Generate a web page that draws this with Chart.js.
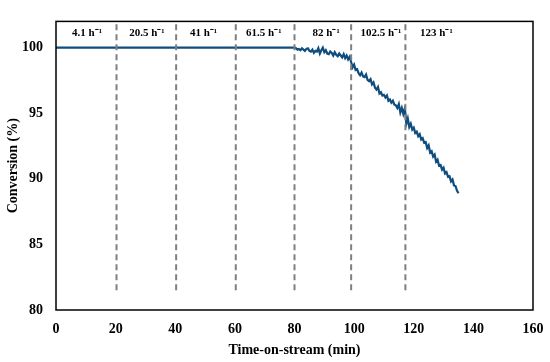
<!DOCTYPE html>
<html><head><meta charset="utf-8">
<script src="https://cdn.jsdelivr.net/npm/chart.js@4"></script>
<style>html,body{margin:0;padding:0;background:#fff}#w{width:550px;height:362px}</style>
</head><body><div id="w"><canvas id="c"></canvas></div>
<script>
const times = [0,80,80.5,81,81.5,82,82.5,83,83.5,84,84.5,85,85.5,86,86.5,87,87.5,88,88.5,89,89.5,90,90.5,91,91.5,92,92.5,93,93.5,94,94.5,95,95.5,96,96.5,97,97.5,98,98.5,99,99.5,100,100.5,101,101.5,102,102.5,103,103.5,104,104.5,105,105.5,106,106.5,107,107.5,108,108.5,109,109.5,110,110.5,111,111.5,112,112.5,113,113.5,114,114.5,115,115.5,116,116.5,117,117.3,117.5,118,118.5,119,119.5,120,120.5,121,121.5,122,122.5,123,123.5,124,124.5,125,125.5,126,126.5,127,127.5,128,128.5,129,129.5,130,130.5,131,131.5,132,132.5,133,133.5,134,134.5,135];
const conversion = [100,100,99.95,99.85,99.9,99.8,99.95,99.85,99.75,99.9,99.95,99.75,99.7,99.85,99.6,99.75,99.7,99.95,99.55,99.8,100.0,99.65,99.8,99.55,99.5,99.7,99.6,99.4,99.65,99.45,99.35,99.55,99.4,99.25,99.5,99.2,99.4,99.1,99.3,98.9,98.5,98.7,98.3,98.35,98.05,97.9,98.1,97.8,97.75,97.95,97.55,97.45,97.6,97.2,97.35,96.95,96.8,97.0,96.5,96.6,96.35,96.4,96.2,96.35,95.95,96.05,95.8,95.95,95.65,95.6,95.4,95.7,95.05,95.4,94.95,95.35,94.8,94.2,94.6,93.95,94.2,93.75,93.9,93.5,93.6,93.25,93.4,93.0,93.1,92.75,92.8,92.35,92.55,92.0,92.1,91.7,91.85,91.3,91.45,91.0,91.05,90.7,90.85,90.4,90.5,90.15,90.2,89.8,89.95,89.5,89.45,89.1,88.9];
const boundaries = [20.3,40.3,60.3,80,99,117.2];
const boundaryBottom = 81.5;
const boundaryTop = 102;
const spaceVelocities = ["4.1 h\u207B\u00B9","20.5 h\u207B\u00B9","41 h\u207B\u00B9","61.5 h\u207B\u00B9","82 h\u207B\u00B9","102.5 h\u207B\u00B9","123 h\u207B\u00B9"];
const labelX = [10.4,30.5,49.5,69.7,90.6,109,127.6];
const labelY = 101.1;
const xTicks = [0,20,40,60,80,100,120,140,160];
const yTicks = [80,85,90,95,100];

const FONT = "'Liberation Serif','Times New Roman',serif";
const datasets = boundaries.map(b => ({
  data: [{x:b,y:boundaryBottom},{x:b,y:boundaryTop}],
  borderColor:'#7f7f7f', borderWidth:2, borderDash:[6,4], pointRadius:0, fill:false
}));
datasets.push({
  data: times.map((t,i)=>({x:t,y:conversion[i]})),
  borderColor:'#0e4d7d', borderWidth:2.2, pointRadius:0, tension:0, fill:false
});

const overlay = {
  id:'overlay',
  afterDatasetsDraw(chart){
    const {ctx, chartArea:a, scales} = chart;
    ctx.save();
    ctx.strokeStyle='#000'; ctx.lineWidth=1.5;
    ctx.strokeRect(a.left, a.top, a.right-a.left, a.bottom-a.top);
    ctx.fillStyle='#000';
    ctx.font = "bold 11px " + FONT;
    ctx.textAlign='center'; ctx.textBaseline='middle';
    spaceVelocities.forEach((s,i)=>{
      ctx.fillText(s, scales.x.getPixelForValue(labelX[i]), scales.y.getPixelForValue(labelY));
    });
    ctx.restore();
  }
};

new Chart(document.getElementById('c'), {
  type:'line',
  data:{datasets},
  options:{
    responsive:true, maintainAspectRatio:false, animation:false,
    layout:{padding:{top:12,right:17,left:0,bottom:0}},
    plugins:{legend:{display:false},tooltip:{enabled:false}},
    scales:{
      x:{type:'linear',min:0,max:160,
        afterBuildTicks(s){s.ticks = xTicks.map(v=>({value:v}));},
        afterFit(s){s.height=52; s.paddingRight=11;},
        grid:{display:false,drawTicks:false}, border:{display:false},
        ticks:{color:'#000',padding:11,maxRotation:0,font:{family:FONT,size:14,weight:'bold'}},
        title:{display:true,text:'Time-on-stream (min)',color:'#000',padding:{top:0,bottom:3},font:{family:FONT,size:14,weight:'bold'}}
      },
      y:{type:'linear',min:80,max:102,
        afterBuildTicks(s){s.ticks = yTicks.map(v=>({value:v}));},
        afterFit(s){s.width=56;},
        grid:{display:false,drawTicks:false}, border:{display:false},
        ticks:{color:'#000',padding:13,font:{family:FONT,size:14,weight:'bold'}},
        title:{display:true,text:'Conversion (%)',color:'#000',padding:{top:5,bottom:0},font:{family:FONT,size:14,weight:'bold'}}
      }
    }
  },
  plugins:[overlay]
});
</script></body></html>
